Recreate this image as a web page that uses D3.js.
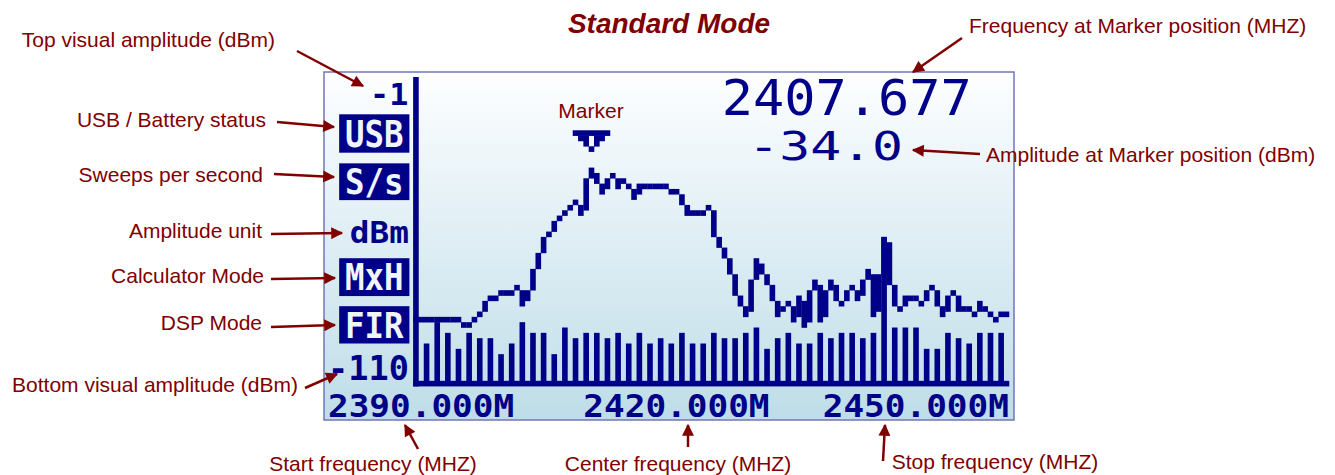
<!DOCTYPE html>
<html lang="en">
<head>
    <meta charset="utf-8">
    <title>Standard Mode</title>
    <style>
        body { margin: 0; background: #fff; }
    </style>
</head>
<body>

<script src="https://cdn.jsdelivr.net/npm/d3@7"></script>
<script>
    // sweep range and amplitude window shown on the LCD
    var startMHz = 2390, stopMHz = 2450;
    var topDbm = -1, bottomDbm = -110;
    var freqLabels = ["2390.000M", "2420.000M", "2450.000M"];
    var markerMHz = 2407.677, markerDbm = -34.0;
    var sideIcons = ["USB", "S/s", "dBm", "MxH", "FIR"];

    // max hold trace, one value per sweep point (112 points, dBm)
    var maxHold = [
        -87.1, -87.1, -87.1, -87.1, -87.1, -87.1, -87.1, -87.1, -87.1, -89.0,
        -89.0, -87.1, -85.1, -81.3, -79.4, -79.4, -77.5, -77.5, -77.5, -75.6,
        -81.3, -77.5, -69.8, -64.1, -58.4, -56.5, -52.6, -50.7, -48.8, -46.9,
        -45.0, -48.8, -37.3, -34.0, -37.3, -41.2, -37.3, -35.4, -39.2, -37.3,
        -39.2, -43.1, -39.2, -39.2, -39.2, -39.2, -39.2, -39.2, -41.2, -41.2,
        -45.0, -48.8, -48.8, -48.8, -48.8, -46.9, -56.5, -60.3, -64.1, -69.8,
        -77.5, -81.3, -85.1, -73.7, -66.0, -69.8, -73.7, -79.4, -85.1, -83.2,
        -81.3, -87.1, -79.4, -89.0, -77.5, -73.7, -87.1, -77.5, -73.7, -79.4,
        -81.3, -77.5, -75.6, -79.4, -73.7, -69.8, -85.1, -71.8, -58.4, -73.7,
        -81.3, -83.2, -79.4, -79.4, -79.4, -81.3, -77.5, -75.6, -81.3, -85.1,
        -79.4, -77.5, -83.2, -83.2, -83.2, -85.1, -81.3, -83.2, -85.1, -87.1,
        -85.1, -85.1
    ];

    // live sweep bars, every second sweep point starting at point 2 (dBm)
    var liveBars = [
        -96.6, -89.0, -92.8, -98.5, -92.8, -94.7, -94.7, -100.4, -96.6, -89.0,
        -92.8, -92.8, -100.4, -90.9, -94.7, -92.8, -92.8, -94.7, -92.8, -96.6,
        -92.8, -96.6, -94.7, -96.6, -92.8, -96.6, -96.6, -92.8, -94.7, -94.7,
        -92.8, -90.9, -98.5, -94.7, -92.8, -96.6, -96.6, -92.8, -94.7, -92.8,
        -92.8, -94.7, -92.8, -58.4, -90.9, -90.9, -90.9, -98.5, -98.5, -92.8,
        -94.7, -96.6, -92.8, -92.8, -92.8
    ];

    var noteText = [
        "Top visual amplitude (dBm)", "USB / Battery status", "Sweeps per second",
        "Amplitude unit", "Calculator Mode", "DSP Mode", "Bottom visual amplitude (dBm)",
        "Frequency at Marker position (MHZ)", "Amplitude at Marker position (dBm)",
        "Start frequency (MHZ)", "Center frequency (MHZ)", "Stop frequency (MHZ)"
    ];

    function main() {
        var width = 1335, height = 475;
        var red = "#800000", ink = "#000088";

        var svg = d3.select("body").append("svg")
            .attr("width", width)
            .attr("height", height)
            .style("display", "block");

        var defs = svg.append("defs");
        var grad = defs.append("linearGradient").attr("id", "lcdBg")
            .attr("x1", 0).attr("y1", 0).attr("x2", 0).attr("y2", 1);
        grad.append("stop").attr("offset", 0).attr("stop-color", "#fdfeff");
        grad.append("stop").attr("offset", 1).attr("stop-color", "#bedde8");

        defs.append("marker").attr("id", "arrow")
            .attr("viewBox", "0 0 10 10").attr("refX", 9).attr("refY", 5)
            .attr("markerWidth", 14).attr("markerHeight", 12)
            .attr("markerUnits", "userSpaceOnUse").attr("orient", "auto")
            .append("path").attr("d", "M0,0L10,5L0,10z").attr("fill", red);

        // LCD panel
        svg.append("rect")
            .attr("x", 324).attr("y", 72).attr("width", 690).attr("height", 348)
            .attr("fill", "url(#lcdBg)")
            .attr("stroke", "#7474b8").attr("stroke-width", 1.5);

        // 128 x 64 pixel grid of the display
        var lcdX = d3.scaleLinear().domain([0, 128]).range([328, 328 + 128 * 5.32]);
        var lcdY = d3.scaleLinear().domain([0, 64]).range([77, 77 + 64 * 5.33]);
        // data -> pixel column / row
        var freqCol = d3.scaleLinear().domain([startMHz, stopMHz]).range([16, 127]);
        var dbmRow = d3.scaleLinear().domain([topDbm, bottomDbm]).range([0, 57]);
        var baseRow = Math.round(dbmRow(bottomDbm));

        var step = (stopMHz - startMHz) / (maxHold.length - 1);
        var pointFreq = function (i) { return startMHz + i * step; };

        var lcd = svg.append("g").attr("fill", ink);

        // block of lit pixels
        function run(c0, c1, r0, r1) {
            lcd.append("rect")
                .attr("x", lcdX(c0))
                .attr("y", lcdY(r0))
                .attr("width", lcdX(c1 + 1) - lcdX(c0) + 0.3)
                .attr("height", lcdY(r1 + 1) - lcdY(r0) + 0.3);
        }

        // amplitude axis and baseline
        run(16, 16, 0, baseRow);
        run(16, 127, baseRow, baseRow);

        // live bars
        liveBars.forEach(function (v, j) {
            var c = Math.round(freqCol(pointFreq(2 + 2 * j)));
            var r = Math.round(dbmRow(v));
            run(c, c, r, baseRow - 1);
        });

        // max hold trace, joined column to column
        var prev = null;
        maxHold.forEach(function (v, i) {
            var c = Math.round(freqCol(pointFreq(i)));
            var r = Math.round(dbmRow(v));
            if (prev === null || r === prev) run(c, c, r, r);
            else if (r < prev) run(c, c, r, prev - 1);
            else run(c, c, prev + 1, r);
            prev = r;
        });

        // marker triangle above the peak
        var mc = Math.round(freqCol(markerMHz));
        var mr = Math.round(dbmRow(markerDbm)) - 7;
        run(mc - 3, mc + 3, mr, mr);
        run(mc - 2, mc - 1, mr + 1, mr + 1);
        run(mc + 1, mc + 2, mr + 1, mr + 1);
        run(mc - 1, mc - 1, mr + 2, mr + 2);
        run(mc + 1, mc + 1, mr + 2, mr + 2);
        run(mc, mc, mr + 3, mr + 3);

        // LCD text, fitted into a box of pixel cells
        function lcdText(str, c0, c1, r0, r1, fill, weight) {
            var h = lcdY(r1) - lcdY(r0);
            svg.append("text")
                .attr("x", lcdX(c0))
                .attr("y", lcdY(r1))
                .attr("font-family", "'DejaVu Sans Mono', monospace")
                .attr("font-weight", weight || "bold")
                .attr("font-size", h / 0.73)
                .attr("textLength", lcdX(c1) - lcdX(c0))
                .attr("lengthAdjust", "spacingAndGlyphs")
                .attr("fill", fill)
                .text(str);
        }

        var paper = "#eef6f9";
        lcdText(String(topDbm), 7.9, 15.1, 1.1, 5.2, ink);
        lcdText(String(bottomDbm), 0, 15.2, 52.3, 56.8, ink);

        // side status icons (boxed ones are drawn inverted)
        var iconRows = [[7.0, 14.2], [16.2, 23.1], [27, 31.1], [34, 41.1], [43, 50]];
        sideIcons.forEach(function (s, i) {
            var rr = iconRows[i];
            if (s === "dBm") {
                lcdText(s, 4.1, 15.2, rr[0], rr[1], ink);
                return;
            }
            svg.append("rect")
                .attr("x", lcdX(2.1)).attr("y", lcdY(rr[0]))
                .attr("width", lcdX(15.3) - lcdX(2.1))
                .attr("height", lcdY(rr[1]) - lcdY(rr[0]))
                .attr("fill", ink);
            lcdText(s, 3.2, 14.2, rr[0] + 1, rr[1] - 1.1, paper);
        });

        // frequency labels along the bottom
        var labelCols = [[0, 35], [48, 83], [93, 128]];
        freqLabels.forEach(function (s, i) {
            lcdText(s, labelCols[i][0], labelCols[i][1], 59.5, 63.8, ink);
        });

        // marker readout
        lcdText(markerMHz.toFixed(3), 74, 121, 0.2, 7.1, ink, "normal");
        lcdText(markerDbm.toFixed(1), 79, 108.1, 10.3, 15.6, ink, "normal");

        // annotations
        var font = "'Liberation Sans', Arial, sans-serif";
        svg.append("text")
            .attr("x", 669).attr("y", 33)
            .attr("text-anchor", "middle")
            .attr("font-family", font)
            .attr("font-size", 28)
            .attr("font-weight", "bold")
            .attr("font-style", "italic")
            .attr("fill", red)
            .text("Standard Mode");

        svg.append("text")
            .attr("x", 591).attr("y", 118)
            .attr("text-anchor", "middle")
            .attr("font-family", font)
            .attr("font-size", 21)
            .attr("fill", red)
            .text("Marker");

        // [text x, text y, anchor, arrow from x, y, to x, y]
        var noteLayout = [
            [275, 47, "end", 297, 51, 363, 86],
            [266, 127, "end", 277, 122, 334, 127],
            [263, 182, "end", 274, 174, 334, 177],
            [262, 238, "end", 271, 234, 342, 233],
            [264, 283, "end", 271, 279, 335, 278],
            [262, 330, "end", 271, 327, 335, 325],
            [298, 392, "end", 305, 388, 337, 374],
            [969, 33, "start", 962, 38, 913, 72],
            [986, 162, "start", 980, 154, 913, 150],
            [373, 471, "middle", 418, 449, 405, 425],
            [678, 471, "middle", 688, 447, 688, 425],
            [995, 469, "middle", 883, 461, 885, 425]
        ];

        var notes = svg.append("g").selectAll("g")
            .data(noteLayout)
            .join("g");

        notes.append("text")
            .attr("x", function (d) { return d[0]; })
            .attr("y", function (d) { return d[1]; })
            .attr("text-anchor", function (d) { return d[2]; })
            .attr("font-family", font)
            .attr("font-size", 21)
            .attr("fill", red)
            .text(function (d, i) { return noteText[i]; });

        notes.append("line")
            .attr("x1", function (d) { return d[3]; })
            .attr("y1", function (d) { return d[4]; })
            .attr("x2", function (d) { return d[5]; })
            .attr("y2", function (d) { return d[6]; })
            .attr("stroke", red)
            .attr("stroke-width", 2.5)
            .attr("marker-end", "url(#arrow)");
    }

    window.onload = function () {
        main();
    };
</script>
</body>
</html>
